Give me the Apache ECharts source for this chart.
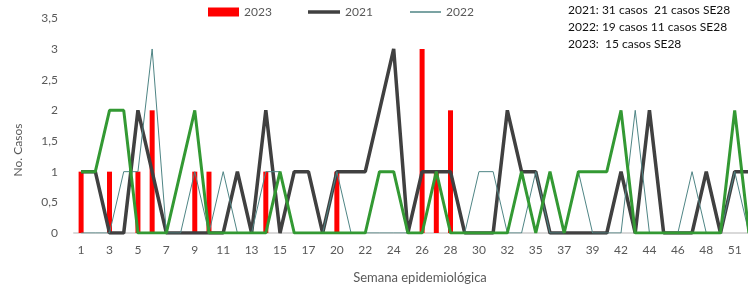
<!DOCTYPE html>
<html>
<head>
<meta charset="utf-8">
<script src="https://cdn.jsdelivr.net/npm/echarts@6/dist/echarts.min.js"></script>
<style>
    html, body { margin: 0; padding: 0; background: #fff; overflow: hidden; }
    #main { width: 760px; height: 290px; }
</style>
</head>
<body>
<div id="main"></div>
<script>
    // semanas (las que no tienen etiqueta van en medio)
    var weeks = ['1', '2', '3', '4', '5', '6', '7', '8', '9', '10', '11', '12', '13', '14', '15', '16', '17', '18',
        '20', '21', '22', '23', '24', '25', '26', '27', '28', '29', '30', '31', '32', '33',
        '35', '36', '37', '38', '39', '40', '42', '43', '44', '45', '46', '47', '48', '49', '51', '52'];

    var casos2023 = [1, 0, 1, 0, 1, 2, 0, 0, 1, 1, 0, 0, 0, 1, 0, 0, 0, 0,
        1, 0, 0, 0, 0, 0, 3, 1, 2, null, null, null, null, null,
        null, null, null, null, null, null, null, null, null, null, null, null, null, null, null, null];

    var casos2021 = [1, 1, 0, 0, 2, 1, 0, 0, 0, 0, 0, 1, 0, 2, 0, 1, 1, 0,
        1, 1, 1, 2, 3, 0, 1, 1, 1, 0, 0, 0, 2, 1,
        1, 0, 0, 0, 0, 0, 1, 0, 2, 0, 0, 0, 1, 0, 1, 1];

    var casos2022 = [0, 0, 0, 1, 1, 3, 0, 0, 1, 0, 1, 0, 0, 1, 1, 0, 0, 0,
        1, 0, 0, 0, 0, 0, 0, 1, 0, 0, 1, 1, 0, 0,
        1, 0, 0, 1, 0, 0, 0, 2, 0, 0, 0, 1, 0, 0, 1, 0];

    // serie verde sin leyenda
    var casosOtro = [1, 1, 2, 2, 0, 0, 0, 1, 2, 0, 0, 0, 0, 0, 1, 0, 0, 0,
        0, 0, 0, 1, 1, 0, 0, 1, 0, 0, 0, 0, 0, 1,
        0, 1, 0, 1, 1, 1, 2, 0, 0, 0, 0, 0, 0, 0, 2, 0];

    var yTicks = { min: 0, max: 3.5, interval: 0.5 };
    var notas = ['2021: 31 casos  21 casos SE28', '2022: 19 casos 11 casos SE28', '2023:  15 casos SE28'];

    var font = 'Lato, "Open Sans", sans-serif';
    var gris = '#595959';

    var chart = echarts.init(document.getElementById('main'), null, { renderer: 'canvas' });

    function legendFn(name, left, w, h) {
        return {
            data: [name],
            left: left,
            top: 6,
            padding: 0,
            icon: 'rect',
            itemWidth: w,
            itemHeight: h,
            selectedMode: false,
            textStyle: { color: gris, fontSize: 12, fontFamily: font }
        };
    };

    var option = {
        animation: false,
        grid: {
            left: 74,
            top: 18.3,
            width: 682,
            height: 214.7
        },
        legend: [
            legendFn('2023', 208, 31, 9),
            legendFn('2021', 308, 32, 3.5),
            legendFn('2022', 410, 31, 1.5)
        ],
        xAxis: {
            type: 'category',
            data: weeks,
            boundaryGap: true,
            axisLine: { show: true, lineStyle: { color: '#d9d9d9', width: 2 } },
            axisTick: { show: false },
            axisLabel: {
                interval: 1,
                margin: 11,
                color: gris,
                fontSize: 12,
                fontFamily: font
            },
            splitLine: { show: false }
        },
        yAxis: {
            type: 'value',
            min: yTicks.min,
            max: yTicks.max,
            interval: yTicks.interval,
            axisLine: { show: false },
            axisTick: { show: false },
            splitLine: { show: false },
            axisLabel: {
                margin: 16,
                color: gris,
                fontSize: 12,
                fontFamily: font,
                formatter: function (v) {
                    return String(v).replace('.', ',');
                }
            }
        },
        graphic: [
            {
                type: 'text',
                x: 18,
                y: 150,
                rotation: Math.PI / 2,
                style: {
                    text: 'No. Casos',
                    fill: gris,
                    fontSize: 12,
                    fontFamily: font,
                    textAlign: 'center',
                    textVerticalAlign: 'middle'
                }
            },
            {
                type: 'text',
                x: 420,
                y: 278,
                style: {
                    text: 'Semana epidemiológica',
                    fill: gris,
                    fontSize: 13,
                    fontFamily: font,
                    textAlign: 'center',
                    textVerticalAlign: 'middle'
                }
            },
            {
                type: 'text',
                x: 568,
                y: 2,
                style: {
                    text: notas.join('\n'),
                    fill: '#111',
                    fontSize: 12,
                    lineHeight: 17,
                    fontFamily: font
                }
            }
        ],
        series: [
            {
                name: '2023',
                type: 'bar',
                data: casos2023,
                barWidth: 5,
                itemStyle: { color: '#ff0000' },
                z: 1
            },
            {
                name: '2021',
                type: 'line',
                data: casos2021,
                symbol: 'none',
                itemStyle: { color: '#404040' },
                lineStyle: { color: '#404040', width: 3.5 },
                z: 2
            },
            {
                name: '2022',
                type: 'line',
                data: casos2022,
                symbol: 'none',
                itemStyle: { color: '#4f8585' },
                lineStyle: { color: '#4f8585', width: 1 },
                z: 3
            },
            {
                name: 'otro',
                type: 'line',
                data: casosOtro,
                symbol: 'none',
                itemStyle: { color: '#339933' },
                lineStyle: { color: '#339933', width: 3 },
                z: 4
            }
        ]
    };
    chart.setOption(option);
</script>
</body>
</html>
